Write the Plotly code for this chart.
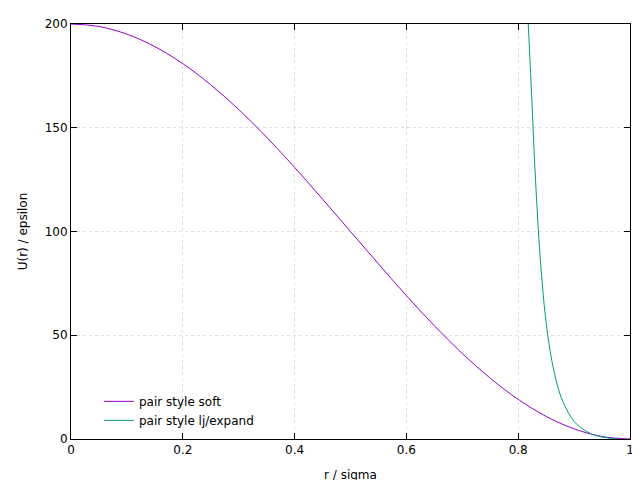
import plotly.graph_objects as go

# values
r_soft = [0.0, 0.05, 0.1, 0.15, 0.2, 0.25, 0.3, 0.35, 0.4, 0.45, 0.5, 0.55, 0.6, 0.65, 0.7, 0.75, 0.8, 0.85, 0.9, 0.95, 1.0]
u_soft = [200, 198.8, 195.1, 189.1, 180.9, 170.7, 158.8, 145.4, 130.9, 115.6, 100, 84.4, 69.1, 54.6, 41.2, 29.3, 19.1, 10.9, 4.9, 1.2, 0]

r_lj = [0.818, 0.825, 0.83, 0.84, 0.85, 0.86, 0.87, 0.88, 0.9, 0.92, 0.94, 0.96, 0.98]
u_lj = [200, 160, 130, 85, 56, 38, 26, 18, 8.5, 4, 1.6, 0.5, 0]

font = dict(family="DejaVu Sans", size=12, color="black")

fig = go.Figure()
fig.add_trace(go.Scatter(x=r_soft, y=u_soft, mode="lines", name="pair style soft",
                         line=dict(color="#9400d3", width=1, shape="spline")))
fig.add_trace(go.Scatter(x=r_lj, y=u_lj, mode="lines", name="pair style lj/expand",
                         line=dict(color="#009e73", width=1, shape="spline")))

axis = dict(showline=True, linecolor="black", linewidth=1, mirror="ticks", ticks="inside",
            ticklen=6, tickcolor="black", showgrid=True, gridcolor="#e0e0e0",
            griddash="dot", zeroline=False, tickfont=font, automargin=False)
fig.update_layout(
    width=640, height=480, paper_bgcolor="white", plot_bgcolor="white",
    margin=dict(l=63, r=18, t=16, b=49), font=font,
    xaxis=dict(axis, range=[0, 1], dtick=0.2, tickformat="~g",
               title=dict(text="r / sigma", font=font, standoff=14)),
    yaxis=dict(axis, range=[0, 200], dtick=50,
               title=dict(text="U(r) / epsilon", font=font, standoff=14)),
    legend=dict(x=0.05, y=0.01, xanchor="left", yanchor="bottom", bgcolor="rgba(0,0,0,0)",
                font=font, tracegroupgap=0),
)
fig.write_html("out.html")
